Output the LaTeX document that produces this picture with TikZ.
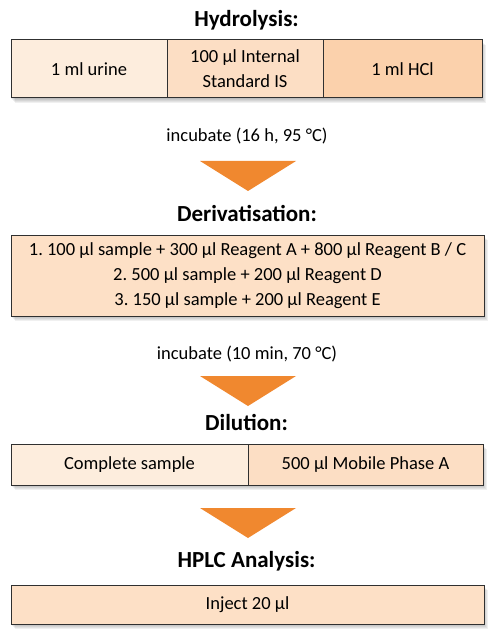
\documentclass[tikz,border=0pt]{standalone}
\usepackage{fontspec}
\setmainfont{Carlito}
\usetikzlibrary{backgrounds}
\definecolor{cA}{HTML}{FDEDDD}
\definecolor{cB}{HTML}{FCDEC4}
\definecolor{cC}{HTML}{FBD1AC}
\definecolor{cD}{HTML}{FDE0C6}
\definecolor{arr}{HTML}{F0882F}
\definecolor{edge}{HTML}{303030}
\frenchspacing
\begin{document}
\begin{tikzpicture}[x=1pt,y=-1pt,
  cell/.style={draw=edge,line width=1pt,inner sep=0pt,outer sep=0pt,align=center,font=\fontsize{18.5}{25}\selectfont},
  title/.style={font=\bfseries\fontsize{23}{26}\selectfont,inner sep=0pt},
  note/.style={font=\fontsize{18.5}{22}\selectfont,inner sep=0pt},
  tri/.style={fill=arr}]
\useasboundingbox (0,0) rectangle (500,636);
% Hydrolysis
\node[title] (t1) at (246.5,20) {Hydrolysis:};
\node[cell,fill=cA,minimum width=156,minimum height=58] (h1) at (89,69) {1 ml urine};
\node[cell,fill=cB,minimum width=156,minimum height=58] (h2) at (245,69) {100 µl Internal\\Standard IS};
\node[cell,fill=cC,minimum width=159,minimum height=58] (h3) at (402.5,69) {1 ml HCl};
\node[note] (n1) at (247,136) {incubate (16 h, 95 °C)};
\fill[tri] (200,161) -- (296,161) -- (248,191) -- cycle;
% Derivatisation
\node[title] (t2) at (247,213) {Derivatisation:};
\node[cell,fill=cD,minimum width=473,minimum height=81] (d1) at (247.5,275.5)
  {1. 100 µl sample + 300 µl Reagent A + 800 µl Reagent B / C\\2. 500 µl sample + 200 µl Reagent D\\3. 150 µl sample + 200 µl Reagent E};
\node[note] (n2) at (247,354) {incubate (10 min, 70 °C)};
\fill[tri] (200,376) -- (296,376) -- (248,406) -- cycle;
% Dilution
\node[title] (t3) at (246.5,422.5) {Dilution:};
\node[cell,fill=cA,minimum width=237,minimum height=41] (l1) at (129.5,464.5) {Complete sample};
\node[cell,fill=cB,minimum width=235,minimum height=41] (l2) at (365.5,464.5) {500 µl Mobile Phase A};
\fill[tri] (200,508) -- (296,508) -- (248,538) -- cycle;
% HPLC
\node[title] (t4) at (246.5,561) {HPLC Analysis:};
\node[cell,fill=cD,minimum width=473,minimum height=39] (p1) at (247.5,604.5) {Inject 20 µl};
% shadows
\begin{pgfonlayer}{background}
\foreach \a/\b in {h1/h3,d1/d1,l1/l2,p1/p1}{
  \foreach \d in {1,2,3,4,5}{
    \fill[black,opacity=0.06] ([shift={(\d-1,\d)}]\a.north west) rectangle ([shift={(\d-1,\d)}]\b.south east);
  }
}
\end{pgfonlayer}
\end{tikzpicture}
\end{document}
